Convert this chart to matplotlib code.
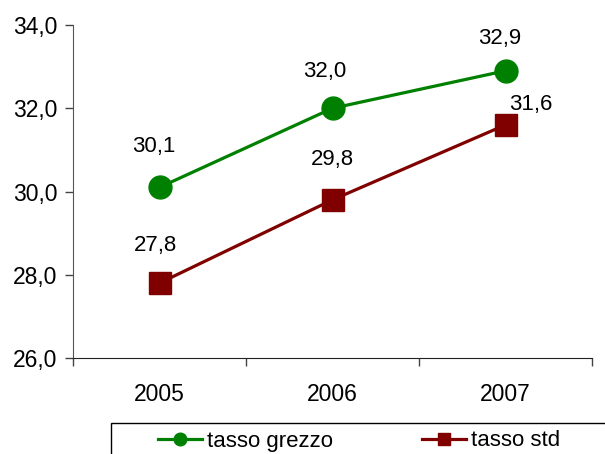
import numpy as np
import matplotlib.pyplot as plt
from matplotlib.patches import Rectangle

plt.rcParams['font.family'] = ['Liberation Sans', 'DejaVu Sans']

years = ["2005", "2006", "2007"]
tasso_grezzo = [30.1, 32.0, 32.9]
tasso_std = [27.8, 29.8, 31.6]

# label offsets in pixels (dx, dy) relative to each point
off_grezzo = [(-6, 41), (-8, 37), (-6, 32)]
off_std = [(-4, 38), (0, 40), (25, 20)]

fig = plt.figure(figsize=(6.05, 4.54), dpi=100)
ax = fig.add_axes([73/605, 1-358/454, (592-73)/605, (358-25)/454])

x = np.arange(1, len(years)+1)
ax.plot(x, tasso_grezzo, color="#008000", lw=2.3, marker="o", ms=16.5,
        label="tasso grezzo")
ax.plot(x, tasso_std, color="#800000", lw=2.3, marker="s", ms=16,
        label="tasso std")

for xi, v, o in zip(x, tasso_grezzo, off_grezzo):
    ax.annotate(f"{v:.1f}".replace(".", ","), (xi, v), xytext=o,
                textcoords="offset pixels", ha="center", va="center", fontsize=16)
for xi, v, o in zip(x, tasso_std, off_std):
    ax.annotate(f"{v:.1f}".replace(".", ","), (xi, v), xytext=o,
                textcoords="offset pixels", ha="center", va="center", fontsize=16)

ax.set_xlim(0.5, len(years)+0.5)
ax.set_ylim(26, 34)
yt = np.arange(26, 34.1, 2)
ax.set_yticks(yt)
ax.set_yticklabels([f"{t:.1f}".replace(".", ",") for t in yt])
ax.set_xticks(np.arange(0.5, len(years)+1, 1))
ax.set_xticklabels([])
ax.set_xticks(x, minor=True)
ax.set_xticklabels(years, minor=True)
ax.tick_params(axis="x", which="minor", length=0, pad=18, labelsize=16.5)
ax.tick_params(axis="x", which="major", length=6, width=1, color="#444444")
ax.tick_params(axis="y", length=6, width=1, labelsize=16.5, pad=5, color="#444444")
for s in ["top", "right"]:
    ax.spines[s].set_visible(False)
ax.spines["left"].set_color("#555555")
ax.spines["bottom"].set_color("#222222")

# legend box runs off the bottom/right edge of the figure
box = Rectangle((111/605, -0.2), 1, 1.2 - 423/454, transform=fig.transFigure,
                facecolor="white", edgecolor="black", lw=1, clip_on=False)
fig.add_artist(box)
leg = fig.legend(loc="center left", bbox_to_anchor=(158/605, 1-441/454),
                 ncol=2, fontsize=16, frameon=False, markerscale=0.55,
                 handlelength=2, columnspacing=4.0, borderpad=0,
                 borderaxespad=0, handletextpad=0.2)

fig.savefig("out.png", dpi=100)
